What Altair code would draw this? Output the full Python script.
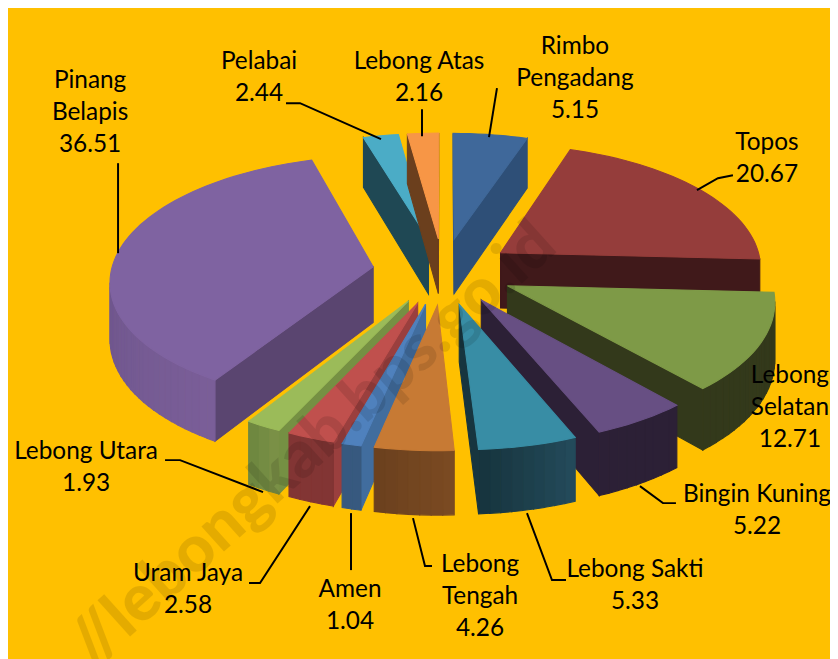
import math
import altair as alt

# ---- data ----
names = ["Rimbo\nPengadang", "Topos", "Lebong\nSelatan", "Bingin Kuning", "Lebong Sakti", "Lebong\nTengah",
         "Amen", "Uram Jaya", "Lebong Utara", "Pinang\nBelapis", "Pelabai", "Lebong Atas"]
values = [5.15, 20.67, 12.71, 5.22, 5.33, 4.26, 1.04, 2.58, 1.93, 36.51, 2.44, 2.16]

top_colors = ["#3F689A", "#953D3B", "#7E9A47", "#674F83", "#388DA5", "#C77A34",
              "#4F81BD", "#C0504D", "#9BBB59", "#7F63A1", "#4BACC6", "#F79646"]
side_colors = ["#2E4F77", "#40191A", "#33391B", "#2C2036", "#17353F", "#17353F",
               "#416D9E", "#9A3F3E", "#759043", "#5A4570", "#1F4854", "#6B3F1D"]
rim_from = ["#2E4F77", "#40191A", "#33391B", "#2C2036", "#234A5A", "#7A4A22",
            "#37597F", "#823534", "#7A9046", "#7A5E98", "#1F4854", "#6B3F1D"]
rim_to = ["#2E4F77", "#40191A", "#33391B", "#2C2036", "#17353F", "#6C411E",
          "#37597F", "#823534", "#6F8840", "#5E4A7C", "#1F4854", "#6B3F1D"]

# painter's order, farthest slice first
paint_order = [10, 11, 0, 1, 9, 2, 3, 4, 8, 7, 6, 5]

# the page (plot + 8px margins) is photographed down to 838 wide
W, H = 830, 651
SX = SY = (W + 16) / 838


def px(x):
    return x * SX - 8


def py(y):
    return y * SY - 8


# ---- camera of the tilted pie ----
CX, CY = px(443), py(268)
AX, BY, KP = 262 * SX, 123 * SY, 0.103
EXPLODE, THICK = 0.27, 56 * SY


def project(X, Y, drop=False):
    w = 1 + KP * Y
    return [CX + AX * X / w, CY - BY * Y / w + (THICK / w if drop else 0)]


def mix(c1, c2, t):
    a = [int(c1[i:i + 2], 16) for i in (1, 3, 5)]
    b = [int(c2[i:i + 2], 16) for i in (1, 3, 5)]
    return "#%02X%02X%02X" % tuple(round(p + (q - p) * t) for p, q in zip(a, b))


def area(p):
    return sum(p[i][0] * p[(i + 1) % len(p)][1] - p[(i + 1) % len(p)][0] * p[i][1] for i in range(len(p))) / 2


def feature(poly, colour):
    ring = poly + [poly[0]]
    return {"type": "Feature", "geometry": {"type": "Polygon", "coordinates": [ring]},
            "properties": {"paint": colour}}


total = sum(values)
edges = [0.0]
for v in values:
    edges.append(edges[-1] + v / total * 2 * math.pi)

features = []
for idx in paint_order:
    t1, t2 = edges[idx], edges[idx + 1]
    mid = (t1 + t2) / 2
    ox, oy = EXPLODE * math.sin(mid), EXPLODE * math.cos(mid)
    steps = max(2, int((t2 - t1) / math.radians(2)))
    angles = [t1 + (t2 - t1) * s / steps for s in range(steps + 1)]
    rim3 = [(ox + math.sin(a), oy + math.cos(a)) for a in angles]
    loop = [(ox, oy)] + rim3
    n = len(loop)
    for j in range(n):
        a, b = loop[j], loop[(j + 1) % n]
        quad = [project(*b), project(*a), project(*a, drop=True), project(*b, drop=True)]
        if area(quad) <= 0.05:
            continue
        if j == 0 or j == n - 1:
            colour = side_colors[idx]
        else:
            colour = mix(rim_from[idx], rim_to[idx], (j - 1) / max(1, steps - 1))
        features.append(feature(quad, colour))
    features.append(feature([project(*p) for p in loop], top_colors[idx]))

pie = alt.Chart(alt.Data(values=features)).mark_geoshape(strokeWidth=1.1).encode(
    fill=alt.Fill("properties.paint:N", scale=None),
    stroke=alt.Stroke("properties.paint:N", scale=None),
).project(type="identity", scale=1, translate=[0, 0])

# ---- callouts: centre x and first-line y of each label ----
label_spots = [(575, 44), (767, 140), (790, 373), (757, 492), (635, 567), (480, 562),
               (350, 587), (188, 571), (86, 449), (90, 78), (259, 59), (419, 59)]
leaders = [[(497, 85), (489, 134)],
           [(733, 172), (718, 175), (697, 187)],
           [],
           [(676, 500), (663, 500), (640, 483)],
           [(566, 577), (552, 577), (527, 510)],
           [(432, 563), (425, 563), (413, 515)],
           [(351, 567), (351, 510)],
           [(249, 580), (260, 580), (310, 503)],
           [(165, 457), (180, 457), (263, 489)],
           [(118, 160), (118, 250)],
           [(286, 100), (300, 100), (381, 136)],
           [(422, 106), (422, 133)]]

label_rows = [{"txt": f"{n}\n{v:.2f}", "x": px(p[0]), "y": py(p[1])}
              for n, v, p in zip(names, values, label_spots)]
line_rows = [{"k": i, "o": o, "x": px(q[0]), "y": py(q[1])}
             for i, path in enumerate(leaders) for o, q in enumerate(path)]

X_ = alt.X("x:Q", scale=None, axis=None)
Y_ = alt.Y("y:Q", scale=None, axis=None)

lines = alt.Chart(alt.Data(values=line_rows)).mark_line(color="#000000", strokeWidth=2).encode(
    x=X_, y=Y_, detail="k:N", order="o:Q")
labels = alt.Chart(alt.Data(values=label_rows)).mark_text(
    font="Lato", fontSize=24.6, color="#000000", lineBreak="\n", lineHeight=32.2,
    align="center", baseline="middle").encode(x=X_, y=Y_, text="txt:N")

watermark = alt.Chart(alt.Data(values=[{"txt": "//lebongkab.bps.go.id", "x": px(546), "y": py(232)}])).mark_text(
    font="Lato", fontWeight=900, fontSize=66, angle=318, color="#000000", opacity=0.1,
    align="right", baseline="middle").encode(x=X_, y=Y_, text="txt:N")

chart = alt.layer(pie, lines, labels, watermark).properties(
    width=W, height=H, background="#FFC000", padding=0,
    autosize=alt.AutoSizeParams(type="none"),
).configure_view(stroke=None)

chart.save("out.html", embed_options={"renderer": "svg", "actions": False})
